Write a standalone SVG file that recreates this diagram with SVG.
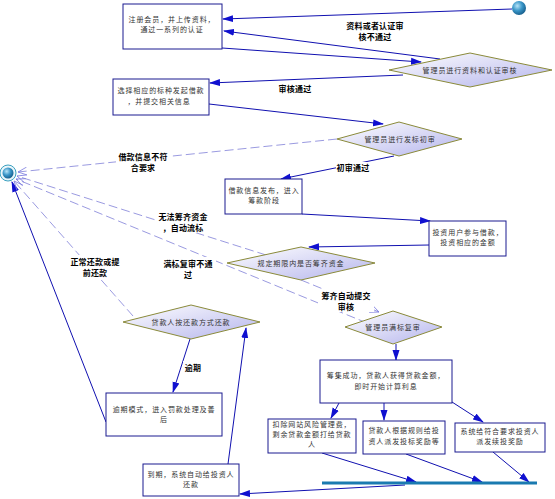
<svg xmlns="http://www.w3.org/2000/svg" width="555" height="499" viewBox="0 0 555 499">
<defs>
<radialGradient id="ball" cx="0.38" cy="0.35" r="0.7">
<stop offset="0" stop-color="#b8e4f8"/>
<stop offset="0.5" stop-color="#3a96c8"/>
<stop offset="1" stop-color="#145a88"/>
</radialGradient>
<linearGradient id="dia" x1="0" y1="0" x2="1" y2="1">
<stop offset="0" stop-color="#ffffff"/>
<stop offset="1" stop-color="#b4b4ec"/>
</linearGradient>
<marker id="ah" markerWidth="11" markerHeight="8" refX="10" refY="4" orient="auto" markerUnits="userSpaceOnUse">
<path d="M0,0.5 L11,4 L0,7.5 z" fill="#1010d0"/>
</marker>
<marker id="oh" markerWidth="10" markerHeight="10" refX="9" refY="5" orient="auto" markerUnits="userSpaceOnUse">
<path d="M0,1 L9,5 L0,9" fill="none" stroke="#8080e0" stroke-width="0.8"/>
</marker>
<style>
.box{fill:#ffffff;stroke:#1a1a90;stroke-width:1}
.dia{fill:url(#dia);stroke:#8a8a3a;stroke-width:1}
.t{font-family:"Noto Sans CJK SC","Noto Sans",sans-serif;font-size:7px;fill:#333;letter-spacing:0.9px;text-anchor:middle;dominant-baseline:central}
.lb{font-family:"Noto Sans CJK SC","Noto Sans",sans-serif;font-size:8px;font-weight:bold;fill:#000;letter-spacing:0.2px;text-anchor:middle;dominant-baseline:central}
.c{fill:none;stroke:#1010b0;stroke-width:1;marker-end:url(#ah)}
.d{fill:none;stroke:#8080d8;stroke-width:0.8;stroke-dasharray:9,4;marker-end:url(#oh)}
</style>
</defs>
<rect width="555" height="499" fill="#ffffff"/>

<g id="connectors">
<path class="c" d="M512,9 L223,19"/>
<path class="c" d="M440,59 L224,31"/>
<path class="c" d="M222,48 L421,62"/>
<path class="c" d="M403,75 L210,83"/>
<path class="c" d="M209,104 L383,124"/>
<path class="c" d="M394,156 L281,179"/>
<path class="c" d="M302,214 L430,221"/>
<path class="c" d="M429,245 L309,247"/>
<path class="c" d="M396,344 L396,360"/>
<path class="c" d="M339,403 L331,418"/>
<path class="c" d="M384,403 L384,420"/>
<path class="c" d="M452,402 L483,422"/>
<path class="c" d="M322,453 L416,482"/>
<path class="c" d="M406,454 L482,482"/>
<path class="c" d="M493,452 L529,482"/>
<path class="c" d="M405,485 L240,494"/>
<path class="c" d="M228,464 L246,328"/>
<path class="c" d="M190,339 L173,392"/>
<path class="c" d="M106,422 L12,182"/>
<path class="d" d="M337,139 L18,172"/>
<path class="d" d="M266,255 L17,176"/>
<path class="d" d="M367,323 L16,179"/>
<path class="d" d="M133,316 L14,181"/>
<path class="d" d="M301,280 L379,312"/>
</g>

<g id="labels">
<rect x="345" y="19" width="60" height="23" fill="#fff"/>
<text class="lb" x="375" y="25">资料或者认证审</text>
<text class="lb" x="375" y="36">核不通过</text>
<rect x="278" y="83" width="36" height="11" fill="#fff"/>
<text class="lb" x="295" y="88">审核通过</text>
<rect x="116" y="150" width="56" height="23" fill="#fff"/>
<text class="lb" x="143" y="156">借款信息不符</text>
<text class="lb" x="143" y="167">合要求</text>
<rect x="336" y="162" width="36" height="11" fill="#fff"/>
<text class="lb" x="353" y="167">初审通过</text>
<rect x="156" y="211" width="56" height="22" fill="#fff"/>
<text class="lb" x="183" y="216">无法筹齐资金</text>
<text class="lb" x="183" y="227">，自动流标</text>
<rect x="160" y="257" width="56" height="23" fill="#fff"/>
<text class="lb" x="188" y="263">满标复审不通</text>
<text class="lb" x="188" y="274">过</text>
<rect x="67" y="255" width="56" height="23" fill="#fff"/>
<text class="lb" x="95" y="261">正常还款或提</text>
<text class="lb" x="95" y="272">前还款</text>
<rect x="318" y="289" width="56" height="23" fill="#fff"/>
<text class="lb" x="346" y="295">筹齐自动提交</text>
<text class="lb" x="346" y="306">审核</text>
<rect x="183" y="361" width="20" height="11" fill="#fff"/>
<text class="lb" x="193" y="367">逾期</text>
</g>

<g id="start">
<circle cx="519" cy="8" r="7" fill="url(#ball)"/>
</g>
<g id="end">
<circle cx="8" cy="173" r="8" fill="#eaf6fa" stroke="#3aa0c0" stroke-width="1"/>
<circle cx="8" cy="173" r="5.5" fill="url(#ball)"/>
</g>

<g id="n1">
<rect class="box" x="123" y="4" width="99" height="45"/>
<text class="t" x="172" y="19">注册会员，并上传资料，</text>
<text class="t" x="172" y="29">通过一系列的认证</text>
</g>
<g id="d1">
<polygon class="dia" points="389,70 470,53 552,70 470,87"/>
<text class="t" x="470" y="70">管理员进行资料和认证审核</text>
</g>
<g id="n2">
<rect class="box" x="113" y="79" width="96" height="36"/>
<text class="t" x="161" y="90">选择相应的标种发起借款</text>
<text class="t" x="159" y="101">，并提交相关信息</text>
</g>
<g id="d2">
<polygon class="dia" points="337,139 399,122 462,139 399,156"/>
<text class="t" x="400" y="139">管理员进行发标初审</text>
</g>
<g id="n3">
<rect class="box" x="225" y="179" width="77" height="35"/>
<text class="t" x="264" y="190">借款信息发布，进入</text>
<text class="t" x="264" y="200">筹款阶段</text>
</g>
<g id="n4">
<rect class="box" x="429" y="221" width="77" height="35"/>
<text class="t" x="468" y="232">投资用户参与借款，</text>
<text class="t" x="468" y="242">投资相应的金额</text>
</g>
<g id="d3">
<polygon class="dia" points="227,263 301,247 375,263 301,280"/>
<text class="t" x="301" y="263">规定期限内是否筹齐资金</text>
</g>
<g id="d4">
<polygon class="dia" points="345,327 393,311 442,327 393,344"/>
<text class="t" x="393" y="327">管理员满标复审</text>
</g>
<g id="n5">
<rect class="box" x="320" y="360" width="132" height="43"/>
<text class="t" x="386" y="375">筹集成功，贷款人获得贷款金额，</text>
<text class="t" x="386" y="386">即时开始计算利息</text>
</g>
<g id="n6">
<rect class="box" x="268" y="419" width="88" height="34"/>
<text class="t" x="312" y="424">扣除网站风险管理费，</text>
<text class="t" x="312" y="434">剩余贷款金额打给贷款</text>
<text class="t" x="312" y="444">人</text>
</g>
<g id="n7">
<rect class="box" x="363" y="421" width="82" height="33"/>
<text class="t" x="404" y="430">贷款人根据规则给投</text>
<text class="t" x="404" y="441">资人派发投标奖励等</text>
</g>
<g id="n8">
<rect class="box" x="455" y="423" width="90" height="29"/>
<text class="t" x="500" y="431">系统给符合要求投资人</text>
<text class="t" x="500" y="441">派发续投奖励</text>
</g>
<g id="bar">
<rect x="322" y="481.5" width="215" height="3" fill="#1a7ab0"/>
</g>
<g id="d5">
<polygon class="dia" points="123,322 191,305 260,322 191,339"/>
<text class="t" x="191" y="322">贷款人按还款方式还款</text>
</g>
<g id="n9">
<rect class="box" x="106" y="393" width="116" height="43"/>
<text class="t" x="164" y="409">逾期模式，进入罚款处理及善</text>
<text class="t" x="164" y="419">后</text>
</g>
<g id="n10">
<rect class="box" x="143" y="464" width="96" height="32"/>
<text class="t" x="191" y="474">到期，系统自动给投资人</text>
<text class="t" x="191" y="484">还款</text>
</g>
</svg>
